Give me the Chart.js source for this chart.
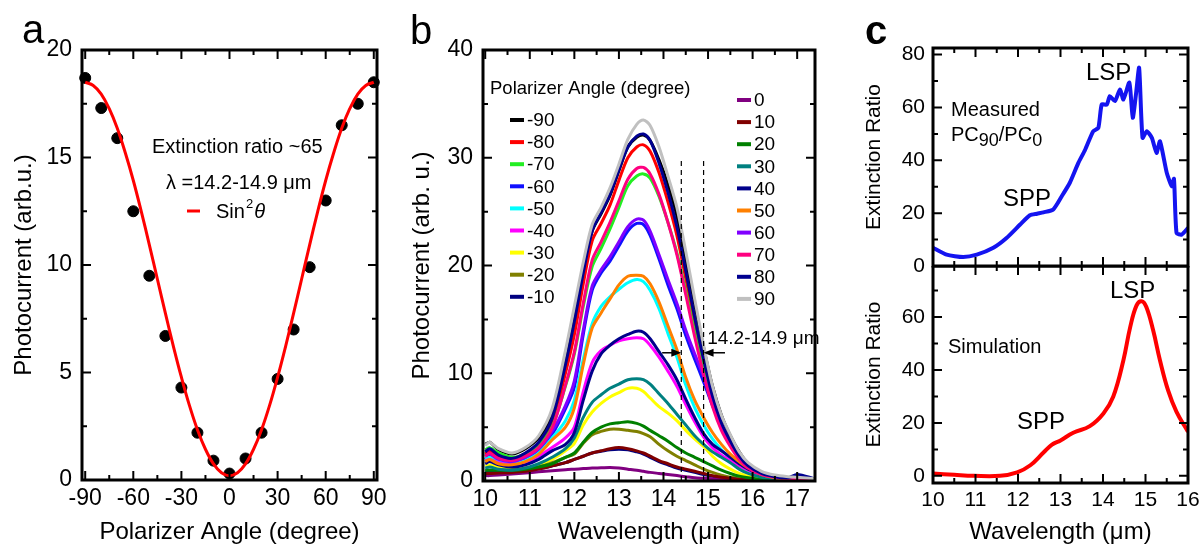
<!DOCTYPE html>
<html>
<head>
<meta charset="utf-8">
<script src="https://cdn.jsdelivr.net/npm/chart.js@4.4.1/dist/chart.umd.min.js"></script>
<style>
  body { margin: 0; background: #fff; width: 1202px; height: 547px; position: relative; overflow: hidden; }
  canvas { position: absolute; }
</style>
</head>
<body>
<canvas id="pa" width="400" height="547" style="left:0;top:0"></canvas>
<canvas id="pb" width="430" height="547" style="left:400px;top:0"></canvas>
<canvas id="pct" width="362" height="285" style="left:840px;top:0"></canvas>
<canvas id="pcb" width="362" height="281" style="left:840px;top:266px"></canvas>
<script>
// ---- panel a: photocurrent vs polarizer angle ----
const angleA = [-90, -80, -70, -60, -50, -40, -30, -20, -10, 0, 10, 20, 30, 40, 50, 60, 70, 80, 90];
const photocurrentA = [18.7, 17.3, 15.9, 12.5, 9.5, 6.7, 4.3, 2.2, 0.9, 0.3, 1.0, 2.2, 4.7, 7.0, 9.9, 13.0, 16.5, 17.5, 18.5];
const fitAngleA = [-90, -85, -80, -75, -70, -65, -60, -55, -50, -45, -40, -35, -30, -25, -20, -15, -10, -5, 0,
                   5, 10, 15, 20, 25, 30, 35, 40, 45, 50, 55, 60, 65, 70, 75, 80, 85, 90];
const fitA = [18.5, 18.35, 17.95, 17.27, 16.36, 15.22, 13.93, 12.48, 10.94, 9.35, 7.76, 6.22, 4.78, 3.47, 2.34, 1.43, 0.75, 0.34, 0.2,
              0.34, 0.75, 1.43, 2.34, 3.47, 4.78, 6.22, 7.76, 9.35, 10.94, 12.48, 13.93, 15.22, 16.36, 17.27, 17.95, 18.35, 18.5];
const angleTicks = [-90, -60, -30, 0, 30, 60, 90];
const angleMinor = [-75, -45, -15, 15, 45, 75];
const pcTicksA = [0, 5, 10, 15, 20];
const pcMinorA = [2.5, 7.5, 12.5, 17.5];

// ---- panel b: spectra for each polarizer angle ----
const wavelengthB = [10.0, 10.1, 10.3, 10.6, 10.9, 11.2, 11.5, 11.8, 12.0, 12.2, 12.4, 12.6, 12.8, 13.0, 13.2, 13.4, 13.55,
                     13.7, 13.9, 14.1, 14.3, 14.5, 14.7, 14.9, 15.1, 15.3, 15.5, 15.7, 15.9, 16.2, 16.5, 16.8, 17.0, 17.4];
const curveM90 = [3.4, 3.6, 2.9, 2.5, 3.0, 4.0, 6.2, 11.0, 15.0, 19.5, 23.2, 24.8, 26.5, 28.8, 31.0, 31.9, 32.1, 31.6, 29.8, 27.5, 24.6, 20.6, 16.4, 12.4, 8.8, 6.1, 4.2, 2.7, 1.6, 0.8, 0.45, 0.3, 0.3, 0.2];
const curveM80 = [2.5, 2.8, 2.3, 2.0, 2.4, 3.3, 5.3, 10.0, 13.6, 18.3, 22.3, 23.9, 25.6, 27.9, 30.0, 31.0, 31.2, 30.6, 28.6, 25.9, 22.8, 18.8, 14.7, 10.9, 7.6, 5.2, 3.5, 2.2, 1.3, 0.7, 0.4, 0.3, 0.25, 0.15];
const curveM70 = [2.9, 3.1, 2.6, 2.2, 2.5, 3.3, 5.0, 8.8, 11.8, 16.2, 19.9, 21.6, 23.4, 25.4, 27.4, 28.3, 28.5, 28.1, 26.4, 24.0, 21.2, 17.6, 13.8, 10.3, 7.2, 5.0, 3.4, 2.1, 1.3, 0.6, 0.35, 0.25, 0.2, 0.15];
const curveM60 = [2.0, 2.3, 1.9, 1.7, 2.0, 2.8, 4.3, 6.7, 8.7, 13.6, 17.7, 19.3, 20.4, 21.8, 23.2, 23.9, 23.8, 22.8, 20.6, 18.2, 16.0, 13.5, 11.3, 9.2, 7.0, 5.0, 3.4, 2.1, 1.3, 0.65, 0.35, 0.25, 0.2, 0.15];
const curveM50 = [2.0, 2.2, 1.8, 1.6, 1.9, 2.6, 4.0, 5.6, 7.5, 11.3, 14.6, 16.2, 17.1, 17.8, 18.4, 18.7, 18.5, 17.7, 16.0, 13.7, 11.5, 8.9, 6.8, 5.2, 3.9, 2.9, 2.1, 1.5, 1.0, 0.5, 0.3, 0.2, 0.15, 0.1];
const curveM40 = [1.9, 2.0, 1.7, 1.5, 1.7, 2.3, 3.1, 4.0, 5.0, 8.3, 11.0, 12.1, 12.6, 13.0, 13.2, 13.3, 13.2, 12.6, 11.5, 10.2, 8.8, 7.1, 5.5, 4.1, 3.1, 2.4, 1.9, 1.4, 1.0, 0.6, 0.35, 0.25, 0.2, 0.15];
const curveM30 = [1.4, 1.5, 1.3, 1.1, 1.2, 1.5, 2.0, 2.8, 3.5, 5.2, 6.4, 7.2, 7.8, 8.2, 8.6, 8.6, 8.3, 7.7, 6.9, 6.3, 5.6, 4.7, 3.9, 3.2, 2.3, 1.6, 1.1, 0.7, 0.45, 0.25, 0.15, 0.1, 0.1, 0.05];
const curveM20 = [1.0, 1.0, 1.0, 1.0, 1.1, 1.3, 1.7, 2.2, 2.5, 3.5, 4.3, 4.6, 4.8, 4.8, 4.7, 4.6, 4.4, 4.1, 3.4, 2.8, 2.3, 1.9, 1.5, 1.1, 0.8, 0.55, 0.35, 0.25, 0.15, 0.1, 0.05, 0.05, 0.05, 0.05];
const curveM10 = [0.8, 0.8, 0.8, 0.85, 0.95, 1.15, 1.4, 1.7, 2.0, 2.3, 2.6, 2.75, 2.9, 2.95, 2.9, 2.7, 2.5, 2.2, 1.8, 1.5, 1.2, 1.0, 0.8, 0.6, 0.45, 0.3, 0.2, 0.15, 0.1, 0.05, 0.05, 0.05, 0.05, 0.05];
const curve0 = [0.5, 0.5, 0.55, 0.65, 0.75, 0.85, 0.95, 1.05, 1.1, 1.15, 1.2, 1.22, 1.25, 1.2, 1.1, 1.0, 0.9, 0.8, 0.7, 0.6, 0.5, 0.4, 0.3, 0.25, 0.2, 0.15, 0.1, 0.08, 0.05, 0.05, 0.05, 0.05, 0.05, 0.05];
const curve10 = [0.7, 0.7, 0.75, 0.8, 0.9, 1.1, 1.4, 1.7, 2.0, 2.3, 2.6, 2.8, 3.0, 3.1, 3.0, 2.8, 2.6, 2.3, 1.9, 1.6, 1.3, 1.1, 0.9, 0.7, 0.5, 0.35, 0.25, 0.15, 0.1, 0.05, 0.05, 0.05, 0.05, 0.05];
const curve20 = [1.0, 1.0, 1.0, 1.0, 1.1, 1.3, 1.6, 2.2, 2.6, 3.6, 4.5, 5.0, 5.3, 5.4, 5.5, 5.35, 5.1, 4.7, 4.2, 3.7, 3.1, 2.6, 2.2, 1.8, 1.4, 1.0, 0.7, 0.45, 0.3, 0.15, 0.1, 0.05, 0.05, 0.05];
const curve30 = [1.2, 1.3, 1.1, 1.0, 1.2, 1.6, 2.2, 3.0, 4.0, 5.9, 7.3, 8.0, 8.6, 9.0, 9.4, 9.5, 9.4, 9.0, 8.1, 7.2, 6.2, 5.2, 4.2, 3.4, 2.7, 2.2, 1.7, 1.1, 0.7, 0.35, 0.2, 0.15, 0.1, 0.05];
const curve40 = [1.6, 1.8, 1.5, 1.3, 1.5, 2.0, 2.8, 3.4, 4.5, 7.5, 10.2, 11.8, 12.6, 13.2, 13.6, 13.9, 13.8, 13.2, 12.0, 10.8, 9.4, 7.6, 5.9, 4.4, 3.4, 2.8, 2.2, 1.6, 1.1, 0.65, 0.4, 0.3, 0.25, 0.15];
const curve50 = [1.8, 2.0, 1.6, 1.5, 1.8, 2.5, 3.8, 5.0, 6.8, 10.8, 14.2, 15.6, 16.9, 18.2, 19.0, 19.1, 19.0, 18.3, 16.6, 14.4, 12.2, 9.6, 7.5, 5.9, 4.5, 3.4, 2.5, 1.8, 1.2, 0.6, 0.3, 0.2, 0.15, 0.1];
const curve60 = [2.3, 2.5, 2.0, 1.8, 2.2, 3.0, 4.6, 7.0, 9.3, 14.0, 18.1, 19.6, 20.8, 22.2, 23.6, 24.3, 24.2, 23.2, 21.0, 18.7, 16.5, 14.0, 11.8, 9.7, 7.5, 5.3, 3.6, 2.3, 1.4, 0.7, 0.4, 0.3, 0.2, 0.15];
const curve70 = [2.3, 2.6, 2.1, 1.9, 2.3, 3.1, 4.9, 8.9, 12.0, 16.5, 20.5, 22.2, 24.0, 26.0, 28.0, 29.0, 29.1, 28.5, 26.6, 24.0, 21.0, 17.3, 13.4, 9.9, 6.9, 4.7, 3.2, 2.0, 1.2, 0.6, 0.35, 0.25, 0.2, 0.15];
const curve80 = [2.7, 3.0, 2.4, 2.1, 2.6, 3.6, 5.8, 10.8, 14.8, 19.3, 23.2, 24.9, 26.6, 28.9, 31.0, 32.0, 32.2, 31.6, 29.5, 26.8, 23.6, 19.5, 15.2, 11.3, 7.9, 5.4, 3.7, 2.3, 1.4, 0.7, 0.4, 0.3, 0.6, 0.2];
const curve90 = [3.3, 3.6, 3.0, 2.6, 3.1, 4.2, 6.7, 12.1, 16.2, 20.3, 23.8, 25.4, 27.2, 29.4, 31.7, 33.1, 33.5, 33.0, 31.0, 28.3, 25.4, 21.3, 16.9, 12.6, 8.8, 6.1, 4.3, 2.7, 1.7, 0.9, 0.55, 0.4, 0.35, 0.2];
const anglesB = [-90, -80, -70, -60, -50, -40, -30, -20, -10, 0, 10, 20, 30, 40, 50, 60, 70, 80, 90];
const curvesB = [curveM90, curveM80, curveM70, curveM60, curveM50, curveM40, curveM30, curveM20, curveM10,
                 curve0, curve10, curve20, curve30, curve40, curve50, curve60, curve70, curve80, curve90];
const bandEdges = [14.4, 14.9];
const bandTop = 30;
const wlTicksB = [10, 11, 12, 13, 14, 15, 16, 17];
const wlMinorB = [10.5, 11.5, 12.5, 13.5, 14.5, 15.5, 16.5];
const pcTicksB = [0, 10, 20, 30, 40];
const pcMinorB = [5, 15, 25, 35];

// ---- panel c: extinction ratio ----
const wlMeasured = [10.0, 10.32, 10.71, 11.03, 11.42, 11.73, 12.05, 12.28, 12.45, 12.6, 12.83, 13.03, 13.22, 13.42, 13.58, 13.77, 13.89, 13.97, 14.09,
                    14.16, 14.28, 14.4, 14.48, 14.62, 14.7, 14.78, 14.85, 14.93, 15.03, 15.15, 15.26, 15.34, 15.5, 15.62, 15.67, 15.73, 15.85, 16.0];
const ratioMeasured = [6.9, 4.3, 3.4, 4.3, 6.9, 10.6, 15.7, 19.2, 19.8, 20.3, 21.4, 26.4, 31.5, 39.0, 44.0, 51.0, 52.3, 61.1, 61.1,
                       64.3, 62.4, 66.8, 63.0, 69.4, 56.1, 65.6, 75.0, 48.5, 51.0, 48.5, 42.8, 47.2, 35.3, 30.2, 33.0, 12.5, 11.9, 14.4];
const wlSim = [10.0, 10.5, 10.96, 11.58, 11.98, 12.29, 12.6, 12.8, 13.0, 13.3, 13.69, 14.01, 14.24, 14.48, 14.64, 14.79, 14.91, 15.02, 15.18, 15.34, 15.53, 15.73, 16.0];
const ratioSim = [0.9, 0.4, 0.0, 0.0, 1.3, 4.0, 8.8, 11.8, 13.4, 16.3, 18.8, 23.6, 29.9, 43.7, 56.2, 64.4, 66.0, 63.8, 55.0, 43.7, 32.4, 24.2, 16.7];
const wlTicksC = [10, 11, 12, 13, 14, 15, 16];
const wlMinorC = [10.5, 11.5, 12.5, 13.5, 14.5, 15.5];
const ratioTicksTop = [0, 20, 40, 60, 80];
const ratioTicksBottom = [0, 20, 40, 60];
const ratioMinor = [10, 30, 50, 70];

const colorsB = {
  '-90': '#000000', '-80': '#ff0000', '-70': '#22ee22', '-60': '#1010ff', '-50': '#00ffff',
  '-40': '#ff00ff', '-30': '#ffff00', '-20': '#808000', '-10': '#000080',
  '0': '#800080', '10': '#800000', '20': '#008000', '30': '#008080', '40': '#00008b',
  '50': '#ff8000', '60': '#8000ff', '70': '#ff0080', '80': '#000090', '90': '#c0c0c0'
};

Chart.defaults.font.family = '"Liberation Sans", Arial, sans-serif';
Chart.defaults.color = '#000';

const FONT = '"Liberation Sans", Arial, sans-serif';

function axis(min, max, ticks, fit, fontSize, pad, title, titlePad, showTicks = true, titleSize = 24) {
  return {
    type: 'linear', min, max,
    grid: { display: false, drawTicks: false },
    border: { display: false },
    afterBuildTicks: s => { s.ticks = ticks.map(v => ({ value: v })); },
    afterFit: s => {
      if (s.isHorizontal()) s.height = fit; else s.width = fit;
      s.paddingTop = 0; s.paddingBottom = 0; s.paddingLeft = 0; s.paddingRight = 0;
    },
    ticks: { display: showTicks, font: { size: fontSize }, padding: pad, color: '#000', maxRotation: 0, autoSkip: false, callback: v => String(v) },
    title: title ? { display: true, text: title, font: { size: titleSize }, padding: titlePad, color: '#000' } : { display: false }
  };
}

// box around the plot area, inward tick marks on all four sides, then the panel's own text
function decor(xMajor, xMinor, yMajor, yMinor, draw) {
  return {
    id: 'decor',
    afterDraw(chart) {
      const ctx = chart.ctx;
      const sx = chart.scales.x, sy = chart.scales.y;
      const L = sx.left, R = sx.right, T = sy.top, B = sy.bottom;
      ctx.save();
      ctx.setLineDash([]);
      ctx.strokeStyle = 'rgb(0,0,0)';
      ctx.lineWidth = 2;
      ctx.beginPath();
      for (const [vals, len] of [[xMajor, 9], [xMinor, 5]]) {
        for (const v of vals) {
          const p = sx.getPixelForValue(v);
          ctx.moveTo(p, B); ctx.lineTo(p, B - len);
          ctx.moveTo(p, T); ctx.lineTo(p, T + len);
        }
      }
      for (const [vals, len] of [[yMajor, 9], [yMinor, 5]]) {
        for (const v of vals) {
          const p = sy.getPixelForValue(v);
          ctx.moveTo(L, p); ctx.lineTo(L + len, p);
          ctx.moveTo(R, p); ctx.lineTo(R - len, p);
        }
      }
      ctx.stroke();
      ctx.lineWidth = 3;
      ctx.beginPath();
      ctx.moveTo(L, T); ctx.lineTo(R, T); ctx.lineTo(R, B); ctx.lineTo(L, B); ctx.closePath();
      ctx.stroke();
      ctx.fillStyle = '#000';
      ctx.textBaseline = 'middle';
      ctx.textAlign = 'left';
      draw(ctx, chart);
      ctx.restore();
    }
  };
}

function put(ctx, str, x, y, size, style = '') {
  ctx.font = `${style} ${size}px ${FONT}`;
  ctx.fillText(str, x, y);
  return x + ctx.measureText(str).width;
}

const base = { responsive: false, animation: false, plugins: { legend: { display: false }, tooltip: { enabled: false } } };

// ---------- panel a ----------
new Chart(document.getElementById('pa'), {
  type: 'line',
  data: {
    datasets: [
      { data: fitAngleA.map((a, i) => ({ x: a, y: fitA[i] })), borderColor: '#ff0000', borderWidth: 3, pointRadius: 0, tension: 0.4, order: 0 },
      { type: 'scatter', data: angleA.map((a, i) => ({ x: a, y: photocurrentA[i] })), backgroundColor: '#000', borderColor: '#000', pointRadius: 5.5, clip: 10, order: 1 }
    ]
  },
  options: Object.assign({}, base, {
    layout: { padding: { top: 50, right: 23, left: 0, bottom: 0 } },
    scales: {
      x: axis(-92, 92, angleTicks, 67, 23, 5, 'Polarizer Angle (degree)', { top: 0, bottom: 0 }),
      y: axis(0, 20, pcTicksA, 82, 23, 10, 'Photocurrent (arb.u.)', { top: 10, bottom: 0 })
    }
  }),
  plugins: [decor(angleTicks, angleMinor, pcTicksA, pcMinorA, ctx => {
    ctx.textBaseline = 'alphabetic';
    put(ctx, 'a', 22, 43, 40);
    ctx.textBaseline = 'middle';
    put(ctx, 'Extinction ratio ~65', 152, 147, 20);
    put(ctx, 'λ =14.2-14.9 μm', 166, 183, 20);
    ctx.strokeStyle = '#ff0000'; ctx.lineWidth = 3;
    ctx.beginPath(); ctx.moveTo(187, 211); ctx.lineTo(200, 211); ctx.stroke();
    let x = put(ctx, 'Sin', 216, 212, 20);
    x = put(ctx, '2', x + 1, 204, 13);
    put(ctx, 'θ', x + 1, 212, 20, 'italic');
  })]
});

// ---------- panel b ----------
const datasetsB = anglesB.map((ang, i) => ({
  data: wavelengthB.map((w, j) => ({ x: w, y: curvesB[i][j] })),
  borderColor: colorsB[String(ang)], borderWidth: 3, pointRadius: 0, tension: 0.3,
  order: anglesB.length - i + 1
}));
bandEdges.forEach(e => datasetsB.push({
  data: [{ x: e, y: 0 }, { x: e, y: bandTop }], borderColor: '#000', borderWidth: 1.2, borderDash: [5, 4], pointRadius: 0, order: 0
}));

new Chart(document.getElementById('pb'), {
  type: 'line',
  data: { datasets: datasetsB },
  options: Object.assign({}, base, {
    layout: { padding: { top: 50, right: 15, left: 0, bottom: 0 } },
    scales: {
      x: axis(9.95, 17.4, wlTicksB, 66, 23, 5, 'Wavelength (μm)', { top: 0, bottom: 0 }),
      y: axis(0, 40, pcTicksB, 83, 23, 10, 'Photocurrent (arb. u.)', { top: 8, bottom: 0 })
    }
  }),
  plugins: [decor(wlTicksB, wlMinorB, pcTicksB, pcMinorB, (ctx, chart) => {
    const sx = chart.scales.x, sy = chart.scales.y;
    ctx.textBaseline = 'alphabetic';
    put(ctx, 'b', 10, 44, 40);
    ctx.textBaseline = 'middle';
    put(ctx, 'Polarizer Angle (degree)', 90, 89, 18.5);
    anglesB.forEach((ang, i) => {
      const left = ang < 0;
      const k = left ? i : i - 9;
      const y = left ? 120 + k * 22.1 : 100 + k * 22.1;
      const lx = left ? 110 : 337;
      ctx.strokeStyle = colorsB[String(ang)]; ctx.lineWidth = 4;
      ctx.beginPath(); ctx.moveTo(lx, y); ctx.lineTo(lx + 14, y); ctx.stroke();
      put(ctx, String(ang), lx + 17, y + 1, 19);
    });
    // band arrows
    const ay = sy.getPixelForValue(11.9);
    const arrow = (from, to) => {
      const x0 = sx.getPixelForValue(from), x1 = sx.getPixelForValue(to);
      const d = Math.sign(x1 - x0);
      ctx.strokeStyle = '#000'; ctx.lineWidth = 1.5;
      ctx.beginPath(); ctx.moveTo(x0, ay); ctx.lineTo(x1 - d * 6, ay); ctx.stroke();
      ctx.beginPath(); ctx.moveTo(x1, ay); ctx.lineTo(x1 - d * 10, ay - 4); ctx.lineTo(x1 - d * 10, ay + 4); ctx.closePath(); ctx.fill();
    };
    arrow(13.97, bandEdges[0]);
    arrow(15.38, bandEdges[1]);
    put(ctx, '14.2-14.9 μm', sx.getPixelForValue(14.98), sy.getPixelForValue(13.2), 19);
  })]
});

// ---------- panel c (top: measured) ----------
new Chart(document.getElementById('pct'), {
  type: 'line',
  data: { datasets: [{ data: wlMeasured.map((w, i) => ({ x: w, y: ratioMeasured[i] })), borderColor: '#1414f0', borderWidth: 4, pointRadius: 0, tension: 0.2 }] },
  options: Object.assign({}, base, {
    layout: { padding: { top: 48, right: 14, left: 0, bottom: 0 } },
    scales: {
      x: axis(10, 16, wlTicksC, 19, 21, 5, null, 0, false),
      y: axis(0, 82.5, ratioTicksTop, 93, 21, 8, 'Extinction Ratio', { top: 22, bottom: 0 }, true, 21)
    }
  }),
  plugins: [decor(wlTicksC, wlMinorC, ratioTicksTop, ratioMinor, ctx => {
    ctx.textBaseline = 'alphabetic';
    put(ctx, 'c', 25, 44, 40, 'bold');
    ctx.textBaseline = 'middle';
    put(ctx, 'Measured', 111, 110, 20);
    let x = put(ctx, 'PC', 111, 135, 20);
    x = put(ctx, '90', x, 141, 18);
    x = put(ctx, '/PC', x, 135, 20);
    put(ctx, '0', x, 141, 18);
    put(ctx, 'LSP', 246, 73, 24);
    put(ctx, 'SPP', 163, 199, 24);
  })]
});

// ---------- panel c (bottom: simulation) ----------
new Chart(document.getElementById('pcb'), {
  type: 'line',
  data: { datasets: [{ data: wlSim.map((w, i) => ({ x: w, y: ratioSim[i] })), borderColor: '#ff0000', borderWidth: 4, pointRadius: 0, tension: 0.4 }] },
  options: Object.assign({}, base, {
    layout: { padding: { top: 0, right: 14, left: 0, bottom: 0 } },
    scales: {
      x: axis(10, 16, wlTicksC, 64, 21, 5, 'Wavelength (μm)', { top: 0, bottom: 0 }),
      y: axis(-2.7, 79.3, ratioTicksBottom, 93, 21, 8, 'Extinction Ratio', { top: 22, bottom: 0 }, true, 21)
    }
  }),
  plugins: [decor(wlTicksC, wlMinorC, ratioTicksBottom, ratioMinor, ctx => {
    put(ctx, 'Simulation', 108, 81, 20);
    put(ctx, 'LSP', 270, 25, 24);
    put(ctx, 'SPP', 177, 156, 24);
  })]
});
</script>
</body>
</html>
